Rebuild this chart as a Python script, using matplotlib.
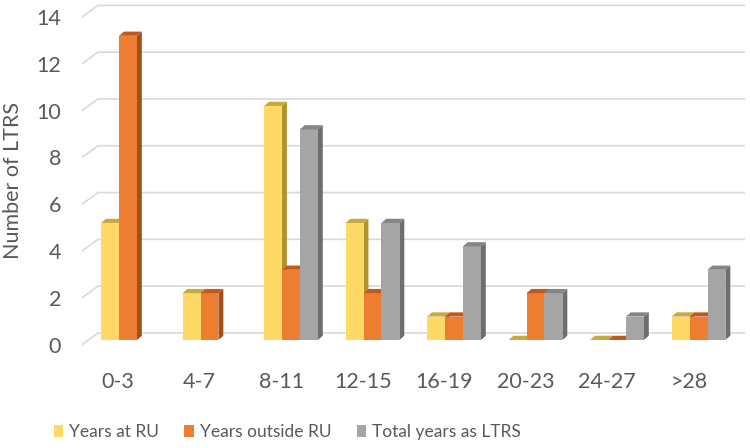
import numpy as np
import matplotlib.pyplot as plt
from matplotlib.patches import Polygon, Patch

plt.rcParams['font.family'] = ['Lato', 'DejaVu Sans']

categories = ["0-3", "4-7", "8-11", "12-15", "16-19", "20-23", "24-27", ">28"]
years_at_ru = [5, 2, 10, 5, 1, 0, 0, 1]
years_outside_ru = [13, 2, 3, 2, 1, 2, 0, 1]
total_years = [None, None, 9, 5, 4, 2, 1, 3]
y_ticks = [0, 2, 4, 6, 8, 10, 12, 14]

series = [
    ("Years at RU", years_at_ru, ("#FFD966", "#C9A83E", "#B0932A")),
    ("Years outside RU", years_outside_ru, ("#ED7D31", "#C0591E", "#A54E17")),
    ("Total years as LTRS", total_years, ("#A5A5A5", "#858585", "#6E6E6E")),
]

W, H = 750, 448
fig = plt.figure(figsize=(W / 100, H / 100), dpi=100)
ax = fig.add_axes([82 / W, 1 - 354 / H, 663 / W, 354 / H])
xl, xr = -0.564, 7.57
ax.set_xlim(xl, xr)
ax.set_ylim(-0.6, 14.53)

# fake 3D depth
bw = 0.22
ddx, ddy = 0.06, 0.18
gdx, front, back = 0.196, -0.2, 0.3
grid_c = "#D9D9D9"

for v in y_ticks:
    ax.plot([xl, xl + gdx, xr], [v + front, v + back, v + back], color=grid_c, lw=1.2, zorder=1)

x = np.arange(len(categories))
for k, (name, vals, (c_front, c_top, c_side)) in enumerate(series):
    for i, v in enumerate(vals):
        if v is None:
            continue
        x0 = x[i] + (k - 1) * bw - bw / 2
        x1 = x0 + bw
        top = [(x0, v), (x1, v), (x1 + ddx, v + ddy), (x0 + ddx, v + ddy)]
        if v > 0:
            side = [(x1, 0), (x1 + ddx, ddy), (x1 + ddx, v + ddy), (x1, v)]
            ax.add_patch(Polygon(side, closed=True, fc=c_side, ec="none", zorder=2 + i * 3 + k))
            ax.add_patch(Polygon([(x0, 0), (x1, 0), (x1, v), (x0, v)], closed=True,
                                 fc=c_front, ec="none", zorder=2 + i * 3 + k))
        ax.add_patch(Polygon(top, closed=True, fc=c_top, ec="none", zorder=2 + i * 3 + k))

for s in ax.spines.values():
    s.set_visible(False)
ax.set_xticks(x - 0.12, categories)
ax.set_yticks([v + front for v in y_ticks], [str(v) for v in y_ticks])
ax.tick_params(length=0, labelsize=15.5, colors="#595959")
ax.tick_params(axis="x", pad=13)
ax.tick_params(axis="y", pad=15)

fig.text(13 / W, 1 - 180 / H, "Number of LTRS", rotation=90, ha="center", va="center",
         fontsize=15.5, color="#595959")

handles = [Patch(fc=c[0], ec="none") for _, _, c in series]
fig.legend(handles, [s[0] for s in series], loc="center left", ncol=3, frameon=False,
           bbox_to_anchor=(38 / W, 1 - 432 / H), fontsize=12.5, labelcolor="#595959",
           handlelength=0.55, handleheight=0.65, handletextpad=0.35, columnspacing=1.45)

fig.savefig("out.png", dpi=100)
